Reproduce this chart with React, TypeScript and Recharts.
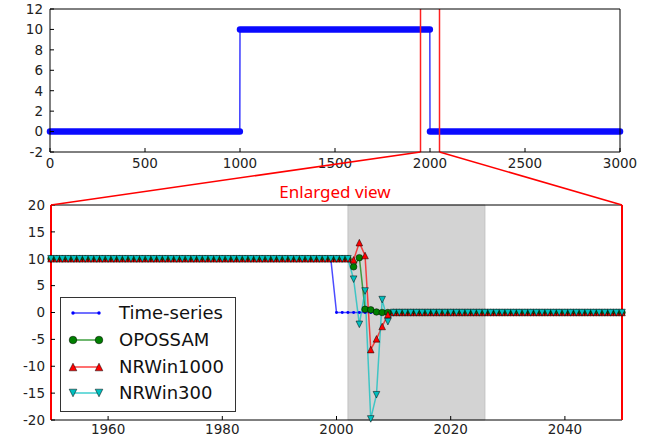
import {
  ComposedChart,
  Line,
  XAxis,
  YAxis,
  ReferenceLine,
  ReferenceArea,
  Legend,
} from 'recharts';

// overview panel: the raw signal as flat steps [from, to, level]
const OVERVIEW_STEPS: [number, number, number][] = [
  [0, 999, 0],
  [1000, 1999, 10],
  [2000, 3000, 0],
];
const OVERVIEW_X_TICKS = [0, 500, 1000, 1500, 2000, 2500, 3000];
const OVERVIEW_Y_TICKS = [-2, 0, 2, 4, 6, 8, 10, 12];
const ZOOM_FROM = 1950;
const ZOOM_TO = 2050;

// enlarged view, one value per year starting at FIRST_YEAR
const FIRST_YEAR = 1950;
const TIME_SERIES = [
  10, 10, 10, 10, 10, 10, 10, 10, 10, 10,
  10, 10, 10, 10, 10, 10, 10, 10, 10, 10,
  10, 10, 10, 10, 10, 10, 10, 10, 10, 10,
  10, 10, 10, 10, 10, 10, 10, 10, 10, 10,
  10, 10, 10, 10, 10, 10, 10, 10, 10, 10,
  0, 0, 0, 0, 0, 0, 0, 0, 0, 0,
  0, 0, 0, 0, 0, 0, 0, 0, 0, 0,
  0, 0, 0, 0, 0, 0, 0, 0, 0, 0,
  0, 0, 0, 0, 0, 0, 0, 0, 0, 0,
  0, 0, 0, 0, 0, 0, 0, 0, 0, 0,
  0,
];
const OPOSSAM = [
  10, 10, 10, 10, 10, 10, 10, 10, 10, 10,
  10, 10, 10, 10, 10, 10, 10, 10, 10, 10,
  10, 10, 10, 10, 10, 10, 10, 10, 10, 10,
  10, 10, 10, 10, 10, 10, 10, 10, 10, 10,
  10, 10, 10, 10, 10, 10, 10, 10, 10, 10,
  10, 10, 10, 8.5, 10.2, 0.6, 0.5, 0.1, 0, 0,
  0, 0, 0, 0, 0, 0, 0, 0, 0, 0,
  0, 0, 0, 0, 0, 0, 0, 0, 0, 0,
  0, 0, 0, 0, 0, 0, 0, 0, 0, 0,
  0, 0, 0, 0, 0, 0, 0, 0, 0, 0,
  0,
];
const NRWIN1000 = [
  10, 10, 10, 10, 10, 10, 10, 10, 10, 10,
  10, 10, 10, 10, 10, 10, 10, 10, 10, 10,
  10, 10, 10, 10, 10, 10, 10, 10, 10, 10,
  10, 10, 10, 10, 10, 10, 10, 10, 10, 10,
  10, 10, 10, 10, 10, 10, 10, 10, 10, 10,
  10, 10, 10, 9.8, 13, 10.6, -6.9, -4.9, -2.6, -0.4,
  0, 0, 0, 0, 0, 0, 0, 0, 0, 0,
  0, 0, 0, 0, 0, 0, 0, 0, 0, 0,
  0, 0, 0, 0, 0, 0, 0, 0, 0, 0,
  0, 0, 0, 0, 0, 0, 0, 0, 0, 0,
  0,
];
const NRWIN300 = [
  10, 10, 10, 10, 10, 10, 10, 10, 10, 10,
  10, 10, 10, 10, 10, 10, 10, 10, 10, 10,
  10, 10, 10, 10, 10, 10, 10, 10, 10, 10,
  10, 10, 10, 10, 10, 10, 10, 10, 10, 10,
  10, 10, 10, 10, 10, 10, 10, 10, 10, 10,
  10, 10, 10, 6.2, -2.2, 4, -19.8, -15.3, 2.4, -1.7,
  0, 0, 0, 0, 0, 0, 0, 0, 0, 0,
  0, 0, 0, 0, 0, 0, 0, 0, 0, 0,
  0, 0, 0, 0, 0, 0, 0, 0, 0, 0,
  0, 0, 0, 0, 0, 0, 0, 0, 0, 0,
  0,
];
const SHADED_FROM = 2002;
const SHADED_TO = 2026;
const ZOOM_X_TICKS = [1960, 1980, 2000, 2020, 2040];
const ZOOM_Y_TICKS = [-20, -15, -10, -5, 0, 5, 10, 15, 20];

type MarkerKind = 'point' | 'circle' | 'up' | 'down';

const SERIES: { key: string; name: string; color: string; marker: MarkerKind }[] = [
  { key: 'ts', name: 'Time-series', color: '#0000ff', marker: 'point' },
  { key: 'op', name: 'OPOSSAM', color: '#008000', marker: 'circle' },
  { key: 'nr1000', name: 'NRWin1000', color: '#ff0000', marker: 'up' },
  { key: 'nr300', name: 'NRWin300', color: '#00bfbf', marker: 'down' },
];

const zoomData = TIME_SERIES.map((v, i) => ({
  year: FIRST_YEAR + i,
  ts: v,
  op: OPOSSAM[i],
  nr1000: NRWIN1000[i],
  nr300: NRWIN300[i],
}));

const overviewLine = OVERVIEW_STEPS.flatMap(([a, b, lvl]) => [
  { x: a, y: lvl },
  { x: b, y: lvl },
]);

// plot boxes in page pixels
const TOP_LEFT = 50;
const TOP_RIGHT = 620;
const TOP_BOTTOM = 152;
const BOT_LEFT = 51;
const BOT_RIGHT = 622;
const BOT_TOP = 205;

const W = 657;
const H = 442;
const BOT_OFFSET = 185;

const FONT = 'DejaVu Sans, sans-serif';
const tickStyle = { fontSize: 13.5, fill: '#222' };
const noLabel = () => <g />;

function Marker({ kind, cx, cy, color, s }: { kind: MarkerKind; cx: number; cy: number; color: string; s: number }) {
  if (kind === 'point') return <circle cx={cx} cy={cy} r={s * 0.45} fill={color} />;
  if (kind === 'circle')
    return <circle cx={cx} cy={cy} r={s} fill={color} stroke="#000" strokeWidth={0.6} strokeOpacity={0.85} />;
  const pts =
    kind === 'up'
      ? `${cx},${cy - s} ${cx - s},${cy + s} ${cx + s},${cy + s}`
      : `${cx},${cy + s} ${cx - s},${cy - s} ${cx + s},${cy - s}`;
  return <polygon points={pts} fill={color} stroke="#000" strokeWidth={0.6} strokeOpacity={0.85} />;
}

const dotFor = (kind: MarkerKind, color: string) => (p: any) => {
  if (p.cx == null || p.cy == null) return <g key={p.index} />;
  return <Marker key={p.index} kind={kind} cx={p.cx} cy={p.cy} color={color} s={3.3} />;
};

const LEGEND_ROWS = [16, 42.5, 69.5, 96];

function LegendBox() {
  return (
    <div
      style={{
        position: 'relative',
        width: 176,
        height: 115,
        border: '1px solid #333',
        background: '#fff',
        boxSizing: 'border-box',
        fontFamily: FONT,
      }}
    >
      {SERIES.map((s, i) => (
        <div key={s.key}>
          <svg
            width={50}
            height={20}
            style={{ position: 'absolute', left: 0, top: LEGEND_ROWS[i] - 11 }}
          >
            <line x1={12} y1={10} x2={38} y2={10} stroke={s.color} strokeWidth={1.5} strokeOpacity={0.75} />
            <Marker kind={s.marker} cx={12} cy={10} color={s.color} s={3.8} />
            <Marker kind={s.marker} cx={38} cy={10} color={s.color} s={3.8} />
          </svg>
          <span
            style={{
              position: 'absolute',
              left: 58,
              top: LEGEND_ROWS[i] - 12,
              fontSize: 18,
              lineHeight: '22px',
              color: '#111',
              whiteSpace: 'nowrap',
            }}
          >
            {s.name}
          </span>
        </div>
      ))}
    </div>
  );
}

const topX = (v: number) => TOP_LEFT + (v / 3000) * (TOP_RIGHT - TOP_LEFT);

export default function App() {
  return (
    <div style={{ position: 'absolute', left: 0, top: 0, width: W, height: H, background: '#fff', fontFamily: FONT }}>
      {/* overview */}
      <div style={{ position: 'absolute', left: 0, top: 0 }}>
        <ComposedChart width={W} height={175} margin={{ top: 8, right: W - TOP_RIGHT - 1, bottom: 3, left: 0 }}>
          <XAxis
            type="number"
            dataKey="x"
            domain={[0, 3000]}
            ticks={OVERVIEW_X_TICKS}
            height={20}
            tickSize={-4}
            tickMargin={10}
            tick={tickStyle}
            stroke="#000"
            interval={0}
          />
          <XAxis xAxisId="top" orientation="top" type="number" domain={[0, 3000]} ticks={OVERVIEW_X_TICKS}
            height={1} tickSize={-4} tick={noLabel} stroke="#000" interval={0} />
          <YAxis
            type="number"
            domain={[-2, 12]}
            ticks={OVERVIEW_Y_TICKS}
            width={TOP_LEFT}
            tickSize={-4}
            tickMargin={11}
            tick={tickStyle}
            stroke="#000"
            interval={0}
          />
          <YAxis yAxisId="right" orientation="right" type="number" domain={[-2, 12]} ticks={OVERVIEW_Y_TICKS}
            width={1} tickSize={-4} tick={noLabel} stroke="#000" interval={0} />
          <Line data={overviewLine} dataKey="y" stroke="#3a3aff" strokeWidth={1.5} dot={false}
            activeDot={false} isAnimationActive={false} />
          {OVERVIEW_STEPS.map(([a, b, lvl], i) => (
            <Line
              key={i}
              data={[{ x: a, y: lvl }, { x: b, y: lvl }]}
              dataKey="y"
              stroke="#0a0aff"
              strokeWidth={6.5}
              strokeLinecap="round"
              dot={false}
              activeDot={false}
              isAnimationActive={false}
            />
          ))}
          <ReferenceLine x={ZOOM_FROM} stroke="#ff2020" strokeWidth={1.5} />
          <ReferenceLine x={ZOOM_TO} stroke="#ff2020" strokeWidth={1.5} />
        </ComposedChart>
      </div>

      {/* enlarged view */}
      <div style={{ position: 'absolute', left: 0, top: BOT_OFFSET }}>
        <ComposedChart
          width={W}
          height={H - BOT_OFFSET}
          data={zoomData}
          margin={{ top: BOT_TOP - BOT_OFFSET - 1, right: W - BOT_RIGHT - 1, bottom: 2, left: 0 }}
        >
          <ReferenceArea x1={SHADED_FROM} x2={SHADED_TO} fill="#d3d3d3" fillOpacity={1} stroke="#bcbcbc" strokeWidth={0.8} />
          <XAxis
            type="number"
            dataKey="year"
            domain={[ZOOM_FROM, ZOOM_TO]}
            ticks={ZOOM_X_TICKS}
            height={20}
            tickSize={-4}
            tickMargin={8}
            tick={tickStyle}
            stroke="#000"
            interval={0}
          />
          <XAxis xAxisId="top" orientation="top" type="number" domain={[ZOOM_FROM, ZOOM_TO]} ticks={ZOOM_X_TICKS}
            height={1} tickSize={-4} tick={noLabel} stroke="#000" interval={0} />
          <YAxis
            type="number"
            domain={[-20, 20]}
            ticks={ZOOM_Y_TICKS}
            width={BOT_LEFT}
            tickSize={-4}
            tickMargin={10}
            tick={tickStyle}
            stroke="#000"
            axisLine={{ stroke: '#ff0000', strokeWidth: 2 }}
            interval={0}
          />
          <YAxis yAxisId="right" orientation="right" type="number" domain={[-20, 20]} ticks={ZOOM_Y_TICKS}
            width={1} tickSize={-4} tick={noLabel} stroke="#000"
            axisLine={{ stroke: '#ff0000', strokeWidth: 2 }} interval={0} />
          {SERIES.map((s) => (
            <Line
              key={s.key}
              dataKey={s.key}
              name={s.name}
              stroke={s.color}
              strokeWidth={1.5}
              strokeOpacity={0.7}
              dot={dotFor(s.marker, s.color)}
              activeDot={false}
              isAnimationActive={false}
            />
          ))}
          <Legend
            layout="vertical"
            align="center"
            verticalAlign="middle"
            content={() => <LegendBox />}
            wrapperStyle={{ left: 60, top: 297 - BOT_OFFSET, width: 176 }}
          />
        </ComposedChart>
      </div>

      {/* zoom connectors */}
      <svg width={W} height={H} style={{ position: 'absolute', left: 0, top: 0, pointerEvents: 'none' }}>
        <line x1={topX(ZOOM_FROM)} y1={TOP_BOTTOM} x2={BOT_LEFT} y2={BOT_TOP} stroke="#ff0000" strokeWidth={1.5} />
        <line x1={topX(ZOOM_TO)} y1={TOP_BOTTOM} x2={BOT_RIGHT} y2={BOT_TOP} stroke="#ff0000" strokeWidth={1.5} />
        <text x={335} y={198} textAnchor="middle" fill="#ff0000" fontSize={17} fontFamily="Noto Sans, sans-serif">
          Enlarged view
        </text>
      </svg>
    </div>
  );
}
